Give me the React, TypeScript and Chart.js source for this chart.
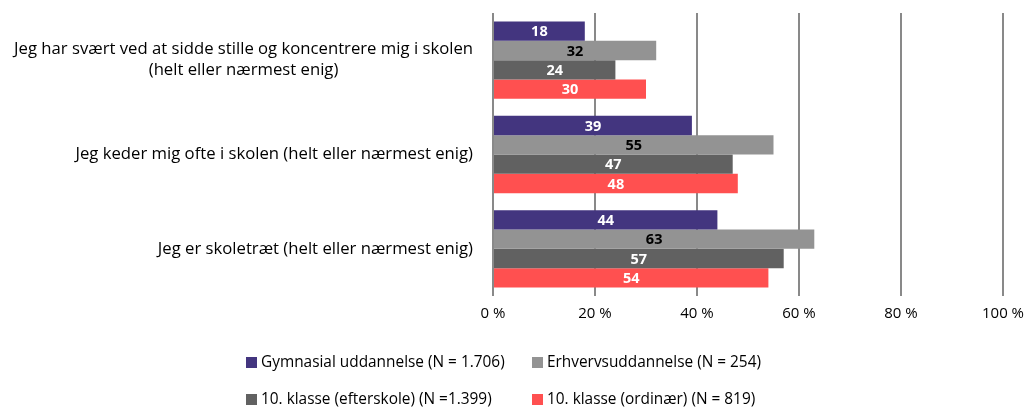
import React, { useEffect, useRef } from "react";
import { Chart, registerables } from "chart.js";

Chart.register(...registerables);

const categories: string[][] = [
  ["Jeg har svært ved at sidde stille og koncentrere mig i skolen", "(helt eller nærmest enig)"],
  ["Jeg keder mig ofte i skolen (helt eller nærmest enig)"],
  ["Jeg er skoletræt (helt eller nærmest enig)"],
];
const seriesNames = [
  "Gymnasial uddannelse (N = 1.706)",
  "Erhvervsuddannelse (N = 254)",
  "10. klasse (efterskole) (N =1.399)",
  "10. klasse (ordinær) (N = 819)",
];
const gymnasial = [18, 39, 44];
const erhverv = [32, 55, 63];
const efterskole = [24, 47, 57];
const ordinaer = [30, 48, 54];
const xTicks = [0, 20, 40, 60, 80, 100];

const colors = ["#43357F", "#939393", "#616161", "#FF5050"];
const labelColors = ["#ffffff", "#000000", "#ffffff", "#ffffff"];
const FONT = "'Open Sans'";

export default function App() {
  const ref = useRef<HTMLCanvasElement>(null);
  useEffect(() => {
    document.body.style.margin = "0";
    const canvas = ref.current!;
    const values = [gymnasial, erhverv, efterskole, ordinaer];

    const labelsPlugin = {
      id: "customLabels",
      afterDatasetsDraw(chart: any) {
        const ctx = chart.ctx;
        ctx.save();
        ctx.font = `bold 14.5px ${FONT}`;
        ctx.textAlign = "center";
        ctx.textBaseline = "middle";
        chart.data.datasets.forEach((ds: any, i: number) => {
          const meta = chart.getDatasetMeta(i);
          meta.data.forEach((bar: any, j: number) => {
            const cx = (bar.x + bar.base) / 2;
            ctx.fillStyle = labelColors[i];
            ctx.fillText(String(ds.data[j]), cx, bar.y + 1);
          });
        });
        ctx.restore();
      },
      afterDraw(chart: any) {
        const ctx = chart.ctx;
        const yScale = chart.scales.y;
        ctx.save();
        ctx.font = `16.7px ${FONT}`;
        ctx.fillStyle = "#000000";
        ctx.textBaseline = "middle";
        ctx.textAlign = "center";
        const right = chart.chartArea.left - 20;
        categories.forEach((lines, i) => {
          const cy = yScale.getPixelForValue(i);
          const w = Math.max(...lines.map((l) => ctx.measureText(l).width));
          const cx = right - w / 2;
          const lh = 21;
          lines.forEach((l, k) => {
            ctx.fillText(l, cx, cy + (k - (lines.length - 1) / 2) * lh);
          });
        });
        // legend
        ctx.font = `15.4px ${FONT}`;
        const rows = [
          { y: 363, items: [{ i: 0, x: 246 }, { i: 1, x: 532 }] },
          { y: 400, items: [{ i: 2, x: 246 }, { i: 3, x: 532 }] },
        ];
        ctx.textAlign = "left";
        rows.forEach((r) => {
          r.items.forEach((it) => {
            ctx.fillStyle = colors[it.i];
            ctx.fillRect(it.x, r.y - 6, 11, 11);
            ctx.fillStyle = "#000000";
            ctx.fillText(chart.data.datasets[it.i].label, it.x + 15, r.y);
          });
        });
        ctx.restore();
      },
    };

    const chart = new Chart(canvas, {
      type: "bar",
      data: {
        labels: categories.map((c) => c.join(" ")),
        datasets: values.map((v, i) => ({
          label: seriesNames[i],
          data: v,
          backgroundColor: colors[i],
          borderWidth: 0,
          categoryPercentage: 0.82,
          barPercentage: 1,
        })),
      },
      options: {
        indexAxis: "y",
        animation: false,
        responsive: false,
        layout: { padding: { left: 493, right: 25, top: 13, bottom: 0 } },
        plugins: { legend: { display: false }, tooltip: { enabled: false } },
        scales: {
          x: {
            min: 0,
            max: 100,
            afterBuildTicks: (s: any) => {
              s.ticks = xTicks.map((v) => ({ value: v }));
            },
            afterFit: (s: any) => {
              s.height = 409 - 296;
              s.paddingLeft = 0;
              s.paddingRight = 0;
            },
            grid: { color: "#898989", lineWidth: 2, drawTicks: false },
            border: { display: false },
            ticks: {
              padding: 9,
              color: "#000000",
              font: { family: "Open Sans", size: 15 },
              callback: (v: any) => `${v} %`,
            },
          },
          y: {
            grid: { display: false },
            border: { display: false },
            ticks: { display: false },
            afterFit: (s: any) => {
              s.width = 0;
            },
          },
        },
      },
      plugins: [labelsPlugin],
    });
    return () => chart.destroy();
  }, []);
  return <canvas ref={ref} width={1028} height={409} style={{ display: "block" }} />;
}
